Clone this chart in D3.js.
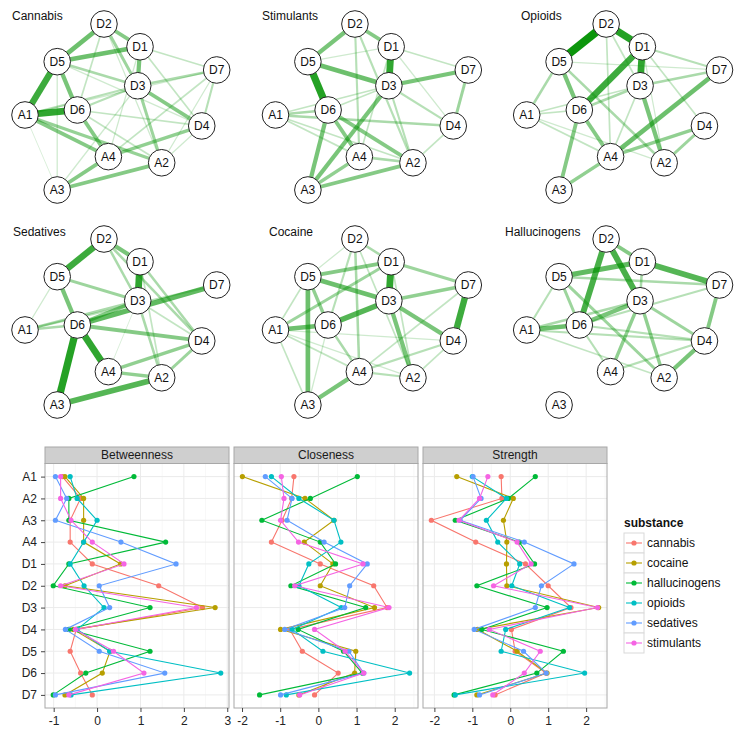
<!DOCTYPE html>
<html><head><meta charset="utf-8">
<script src="https://cdn.jsdelivr.net/npm/d3@7"></script>
<style>body{margin:0;background:#fff} svg{display:block;font-family:"Liberation Sans",Arial,sans-serif}</style>
</head><body>
<svg id="c" width="745" height="737"></svg>
<script>
// ---------------- DATA ----------------
const nodes = ["A1","A2","A3","A4","D1","D2","D3","D4","D5","D6","D7"];
// network layout (abstract units 0..1)
const layoutX = [0, 0.713, 0.168, 0.435, 0.600, 0.412, 0.588, 0.922, 0.168, 0.273, 1.0];
const layoutY = [0.548, 0.836, 1.0, 0.799, 0.137, 0, 0.372, 0.614, 0.227, 0.518, 0.277];

const networkTitles = ["Cannabis","Stimulants","Opioids","Sedatives","Cocaine","Hallucinogens"];

const cannabisEdges = [
  ["D5","A1",0.75],["A1","D6",0.8],["D2","D5",0.55],["D5","D1",0.55],["D2","D1",0.45],["D1","D3",0.5],
  ["D5","D6",0.5],["D6","A4",0.45],["D3","D4",0.45],["A1","A4",0.45],["A1","A2",0.38],["A3","A2",0.45],
  ["A3","A4",0.45],["A4","D4",0.4],["D3","A2",0.35],["D2","D3",0.35],["D7","D3",0.3],["D7","D4",0.25],
  ["D7","A4",0.2],["D5","D3",0.3],["A1","D3",0.25],["D6","D3",0.25],["A1","A3",0.1],["D5","A3",0.15],
  ["D2","D6",0.2],["D1","D7",0.2],["D1","D4",0.2],["D6","D4",0.2],["D5","D4",0.15],["A3","D3",0.15],
  ["A4","D1",0.15],["D6","A2",0.2],["A2","D4",0.15],["A2","D7",0.15],["D2","A2",0.15],["A1","D7",0.15]
];
const stimulantsEdges = [
  ["D5","D6",0.85],["D1","D3",0.8],["D5","D3",0.55],["D2","D5",0.5],["D2","D1",0.45],["D3","D7",0.5],
  ["D3","A3",0.5],["D6","A3",0.5],["A3","A2",0.45],["A3","A4",0.4],["D6","A4",0.45],["D6","A2",0.45],
  ["D7","D4",0.35],["A1","D4",0.3],["A1","D6",0.3],["A1","D3",0.2],["A1","A4",0.2],["A1","A2",0.2],
  ["D2","A4",0.25],["D2","A2",0.25],["D1","D7",0.2],["D3","A2",0.25],["D3","D4",0.25],["D4","A2",0.2],
  ["A4","A2",0.3],["D5","D1",0.15],["D1","A4",0.2],["D6","D3",0.2],["D1","D4",0.15]
];
const opioidsEdges = [
  ["D2","D5",0.95],["D2","D1",0.85],["D1","D3",0.8],["D1","D6",0.75],["D7","A4",0.55],["D5","D6",0.5],
  ["D6","A4",0.45],["D3","A2",0.5],["D6","A3",0.45],["A3","A4",0.4],["A4","D4",0.4],["D4","A2",0.35],
  ["A1","D5",0.3],["D6","D3",0.3],["D3","D7",0.3],["D1","D7",0.25],["D5","A2",0.3],["A1","D6",0.2],
  ["A1","A4",0.2],["A1","D3",0.2],["A1","A2",0.15],["D2","A4",0.2],["D1","D4",0.2],["D5","D7",0.15],
  ["D3","A4",0.2],["D2","D3",0.2],["D1","A2",0.15]
];
const sedativesEdges = [
  ["D6","A3",0.85],["D6","A4",0.8],["D2","D5",0.75],["D1","D3",0.8],["A3","A2",0.65],["D6","D7",0.6],
  ["D6","D3",0.45],["D5","D6",0.5],["D2","D1",0.5],["D6","D4",0.45],["A4","D4",0.4],["A4","A2",0.4],
  ["A2","D4",0.35],["D5","D3",0.35],["D2","D3",0.3],["D2","D4",0.3],["D1","D4",0.3],["D3","A2",0.3],
  ["A1","D6",0.3],["A1","D3",0.3],["A1","D7",0.25],["D3","D4",0.2],["D1","A2",0.2],["D5","A1",0.15],
  ["D3","A4",0.1]
];
const cocaineEdges = [
  ["D1","D3",0.8],["D7","D4",0.75],["D6","D3",0.65],["D5","A3",0.55],["D5","D3",0.55],["A1","D6",0.55],
  ["D3","D4",0.5],["D3","A2",0.5],["A4","A3",0.5],["D5","D1",0.45],["D3","D7",0.4],["D1","D7",0.35],
  ["D2","D1",0.3],["A1","D1",0.35],["D5","D6",0.4],["D6","A4",0.3],["D2","A4",0.3],["D2","D6",0.25],
  ["A1","D4",0.15],["A1","A3",0.2],["A1","A4",0.2],["A1","A2",0.15],["A4","A2",0.25],["A4","D4",0.25],
  ["A2","D4",0.2],["D7","A4",0.2],["D2","A2",0.2],["D1","A2",0.2],["D2","D5",0.15],["D5","A1",0.2],
  ["A3","D6",0.15]
];
const hallucinogensEdges = [
  ["D2","D6",0.7],["D2","D3",0.7],["D1","D7",0.65],["D5","D1",0.6],["A1","D6",0.55],["D6","D3",0.5],
  ["A2","D4",0.5],["D2","D1",0.45],["D7","D4",0.45],["D3","A4",0.4],["D3","A2",0.4],["D3","D4",0.35],
  ["D5","D6",0.35],["D5","A2",0.35],["A1","D3",0.3],["A1","D5",0.25],["A1","D4",0.25],["A1","A2",0.2],
  ["D6","A4",0.25],["A4","D4",0.25],["D5","D7",0.3],["D6","D7",0.25],["D6","D4",0.25],["D1","D3",0.3]
];
const networkEdges = [cannabisEdges, stimulantsEdges, opioidsEdges, sedativesEdges, cocaineEdges, hallucinogensEdges];

// centrality plot
const measures = ["Betweenness","Closeness","Strength"];
const substances = ["cannabis","cocaine","hallucinogens","opioids","sedatives","stimulants"];
const substanceColors = ["#F8766D","#B79F00","#00BA38","#00BFC4","#619CFF","#F564E3"];
// rows: substances (order above); columns: nodes A1..D7
const betweenness = [
  [-0.80,-0.38,-0.62,-0.62,-0.11, 1.42, 2.43,-0.48,-0.62,-0.38,-0.11],
  [-0.74,-0.31,-0.31,-0.31, 0.54,-0.74, 2.72,-0.55, 0.30, 0.12,-0.74],
  [ 0.85,-0.65,-0.65, 1.58,-0.65,-1.01, 1.22,-0.65, 1.22,-0.26,-1.01],
  [-0.62,-0.46, 0.00,-0.31,-0.62,-0.30, 0.16,-0.46, 0.29, 2.85,-0.60],
  [-0.96,-0.70,-0.96, 0.55, 1.82, 0.05, 0.29,-0.73, 0.05, 1.56,-0.96],
  [-0.84,-0.84,-0.60,-0.11, 0.62,-0.84, 2.29,-0.50, 0.38, 1.08,-0.65]
];
const closeness = [
  [-0.64,-0.70,-0.95,-1.23, 0.05, 1.45, 1.80,-0.75,-0.42, 0.52,-0.10],
  [-1.99,-0.35, 0.41,-0.37, 0.38, 0.05, 1.47,-0.99, 0.98, 0.95,-0.51],
  [ 1.02,-0.21,-1.48, 0.05, 0.45,-0.72, 1.24,-0.53, 0.66, 1.15,-1.54],
  [-1.23,-0.51, 0.41, 0.59,-0.25,-0.51, 0.60,-0.69, 0.12, 2.39,-0.84],
  [-1.39,-0.69,-0.82, 0.15, 1.28, 0.82, 0.69,-0.88, 0.80, 1.19,-0.99],
  [-0.97,-0.90,-0.99,-0.52, 1.17,-0.62, 1.85,-0.10, 0.70, 1.19,-0.49]
];
const strength = [
  [-0.24,-0.22,-2.08,-0.91, 0.40, 1.00, 1.60, 0.03, 0.13, 0.94,-0.40],
  [-1.41, 0.08,-0.18,-0.09,-0.10,-0.09, 2.33,-0.86, 0.18, 0.97,-0.88],
  [ 0.66,-0.05,-1.45, 0.24, 0.64,-0.88, 0.97,-0.75, 1.40, 0.70,-1.48],
  [-1.00,-0.10,-0.63,-0.33, 0.25, 0.04, 1.56,-0.12,-0.24, 1.96,-1.45],
  [-0.98,-0.77,-1.32, 0.37, 1.68, 0.82, 0.66,-0.95, 0.35, 0.95,-0.81],
  [-0.59,-0.81,-1.35, 0.18, 0.55,-0.44, 2.30,-0.55, 0.79, 0.37,-0.46]
];
const measureData = [betweenness, closeness, strength];
const measureDomains = [[-1.2, 3.04], [-2.21, 2.61], [-2.3, 2.55]];
const measureTicks = [[-1,0,1,2,3], [-2,-1,0,1,2], [-2,-1,0,1,2]];

// ---------------- DRAW ----------------
const svg = d3.select("#c");
svg.append("rect").attr("width",745).attr("height",737).attr("fill","#fff");

// network panels
const colRanges = [[25,216.7],[275.5,468.3],[526.7,719.5]];
const rowRanges = [[24,190],[239,405]];
const titlePos = [[12,20],[262,20],[521,20],[13,236],[269,236],[505,236]];
const nodeIndex = new Map(nodes.map((n,i)=>[n,i]));
const edgeColor = "rgb(0,145,0)";

networkTitles.forEach((title, p) => {
  const col = p % 3, row = Math.floor(p / 3);
  const sx = d3.scaleLinear().domain([0,1]).range(colRanges[col]);
  const sy = d3.scaleLinear().domain([0,1]).range(rowRanges[row]);
  const g = svg.append("g");
  const edges = networkEdges[p].slice().sort((a,b)=>a[2]-b[2]);
  const wScale = d3.scaleLinear().domain([0,1]).range([0,8.5]);
  g.selectAll("line").data(edges).join("line")
    .attr("x1", d=>sx(layoutX[nodeIndex.get(d[0])]))
    .attr("y1", d=>sy(layoutY[nodeIndex.get(d[0])]))
    .attr("x2", d=>sx(layoutX[nodeIndex.get(d[1])]))
    .attr("y2", d=>sy(layoutY[nodeIndex.get(d[1])]))
    .attr("stroke", edgeColor)
    .attr("stroke-opacity", d=>Math.min(1, d[2]*0.95+0.05))
    .attr("stroke-width", d=>Math.max(1, wScale(d[2])));
  const ng = g.selectAll("g.node").data(nodes).join("g")
    .attr("transform",(d,i)=>`translate(${sx(layoutX[i])},${sy(layoutY[i])})`);
  ng.append("circle").attr("r",13.3).attr("fill","#fff").attr("stroke","#222").attr("stroke-width",1);
  ng.append("text").text(d=>d).attr("text-anchor","middle").attr("dy","0.36em")
    .attr("font-size",12).attr("fill","#111");
  svg.append("text").text(title).attr("x",titlePos[p][0]).attr("y",titlePos[p][1])
    .attr("font-size",12).attr("fill","#111");
});

// centrality facets
const facetLeft = [45, 234, 423], facetW = 184;
const stripTop = 447, stripH = 16.5, panelTop = stripTop + stripH, panelBottom = 708;
const y = d3.scalePoint().domain(nodes).range([panelTop, panelBottom]).padding(0.6);

measures.forEach((m, k) => {
  const x0 = facetLeft[k];
  const x = d3.scaleLinear().domain(measureDomains[k]).range([x0, x0 + facetW]);
  const g = svg.append("g");
  // strip
  g.append("rect").attr("x",x0).attr("y",stripTop).attr("width",facetW).attr("height",stripH)
    .attr("fill","#cfcfcf").attr("stroke","#a8a8a8").attr("stroke-width",1);
  g.append("text").text(m).attr("x",x0+facetW/2).attr("y",stripTop+stripH/2).attr("dy","0.35em")
    .attr("text-anchor","middle").attr("font-size",12).attr("fill","#1a1a1a");
  // panel bg
  g.append("rect").attr("x",x0).attr("y",panelTop).attr("width",facetW).attr("height",panelBottom-panelTop)
    .attr("fill","#fff");
  // minor grid
  const ticks = measureTicks[k];
  const minor = ticks.map(t=>t-0.5).concat([ticks[ticks.length-1]+0.5])
    .filter(t=>t>measureDomains[k][0] && t<measureDomains[k][1]);
  g.selectAll("line.minor").data(minor).join("line")
    .attr("x1",d=>x(d)).attr("x2",d=>x(d)).attr("y1",panelTop).attr("y2",panelBottom)
    .attr("stroke","#f6f6f6").attr("stroke-width",0.8);
  g.selectAll("line.majx").data(ticks).join("line")
    .attr("x1",d=>x(d)).attr("x2",d=>x(d)).attr("y1",panelTop).attr("y2",panelBottom)
    .attr("stroke","#ebebeb").attr("stroke-width",1);
  g.selectAll("line.majy").data(nodes).join("line")
    .attr("x1",x0).attr("x2",x0+facetW).attr("y1",d=>y(d)).attr("y2",d=>y(d))
    .attr("stroke","#ebebeb").attr("stroke-width",1);
  // series
  const line = d3.line().x(d=>x(d.v)).y(d=>y(d.n));
  substances.forEach((s, si) => {
    const pts = nodes.map((n,i)=>({n, v: measureData[k][si][i]}));
    g.append("path").attr("d", line(pts)).attr("fill","none")
      .attr("stroke", substanceColors[si]).attr("stroke-width",1.1);
    g.selectAll(null).data(pts).join("circle")
      .attr("cx",d=>x(d.v)).attr("cy",d=>y(d.n)).attr("r",2.6).attr("fill",substanceColors[si]);
  });
  // border
  g.append("rect").attr("x",x0).attr("y",panelTop).attr("width",facetW).attr("height",panelBottom-panelTop)
    .attr("fill","none").attr("stroke","#a8a8a8").attr("stroke-width",1);
  // x axis
  const xa = d3.axisBottom(x).tickValues(ticks).tickSize(4).tickPadding(4).tickFormat(d=>String(d));
  const ax = svg.append("g").attr("transform",`translate(0,${panelBottom})`).call(xa);
  ax.select(".domain").remove();
  ax.selectAll("line").attr("stroke","#444");
  ax.selectAll("text").attr("font-size",12).attr("fill","#222").attr("font-family","Liberation Sans, Arial, sans-serif");
});
// y axis
const ya = d3.axisLeft(y).tickSize(4).tickPadding(4);
const ay = svg.append("g").attr("transform",`translate(${facetLeft[0]},0)`).call(ya);
ay.select(".domain").remove();
ay.selectAll("line").attr("stroke","#444");
ay.selectAll("text").attr("font-size",12).attr("fill","#222").attr("font-family","Liberation Sans, Arial, sans-serif");

// legend
const lg = svg.append("g").attr("transform","translate(624,0)");
lg.append("text").text("substance").attr("x",0).attr("y",527).attr("font-size",12)
  .attr("font-weight","bold").attr("fill","#111");
substances.forEach((s, i) => {
  const ky = 533 + i*20;
  lg.append("rect").attr("x",0).attr("y",ky).attr("width",20).attr("height",20)
    .attr("fill","#fff").attr("stroke","#d9d9d9").attr("stroke-width",1);
  lg.append("line").attr("x1",2).attr("x2",18).attr("y1",ky+10).attr("y2",ky+10)
    .attr("stroke",substanceColors[i]).attr("stroke-width",1.1);
  lg.append("circle").attr("cx",10).attr("cy",ky+10).attr("r",2.6).attr("fill",substanceColors[i]);
  lg.append("text").text(s).attr("x",23).attr("y",ky+10).attr("dy","0.35em")
    .attr("font-size",12).attr("fill","#111");
});
</script>
</body></html>
